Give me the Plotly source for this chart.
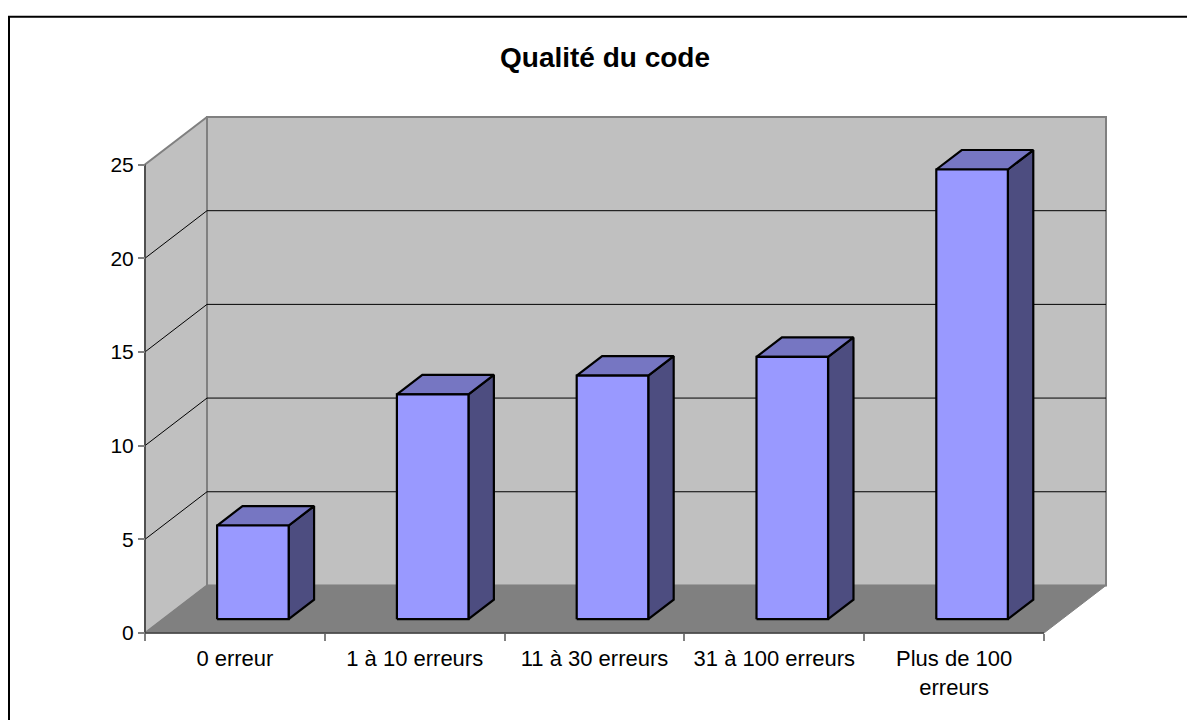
import plotly.graph_objects as go

categories = ["0 erreur", "1 à 10 erreurs", "11 à 30 erreurs", "31 à 100 erreurs", "Plus de 100<br>erreurs"]
values = [5, 12, 13, 14, 24]
y_ticks = [0, 5, 10, 15, 20, 25]

W, H = 1187, 720
L, R, T, B = 145, 1044, 164.7, 632.7   # front plane of the 3D box
DXP, DYP = 62, 47.5                    # depth offset of the back wall, px
PAD = 4                                # room so box edges are not clipped
YMAX = 25
n = len(categories)
xs = (R - L) / n
ys = (B - T) / YMAX
DX = DXP / xs
DY = DYP / ys
D0, D1 = 0.29, 0.70
HW = 0.199

PL, PR = L - PAD, R + DXP + PAD
PT, PB = T - DYP - PAD, B + PAD
paper_x = lambda px: (px - PL) / (PR - PL)
paper_y = lambda py: (PB - py) / (PB - PT)


def poly(px, py, fill, line, width):
    return go.Scatter(x=px, y=py, mode="lines", fill="toself" if fill else None,
                      fillcolor=fill, line=dict(color=line, width=width),
                      hoverinfo="skip", showlegend=False)


x0, x1 = -0.5, n - 0.5
fig = go.Figure()
fig.add_trace(poly([x0, x0 + DX, x0 + DX, x0, x0], [0, DY, YMAX + DY, YMAX, 0], "#C0C0C0", "#808080", 2))
fig.add_trace(poly([x0 + DX, x1 + DX, x1 + DX, x0 + DX, x0 + DX], [DY, DY, YMAX + DY, YMAX + DY, DY], "#C0C0C0", "#808080", 2))
for v in y_ticks[1:-1]:
    fig.add_trace(poly([x0, x0 + DX, x1 + DX], [v, v + DY, v + DY], None, "#000000", 1))
fig.add_trace(poly([x0, x1, x1 + DX, x0 + DX, x0], [0, 0, DY, DY, 0], "#808080", "#808080", 1))
# front edges of the box
fig.add_trace(poly([x0, x0], [0, YMAX], None, "#404040", 1.5))
fig.add_trace(poly([x0, x1], [0, 0], None, "#404040", 1.5))
for i, v in enumerate(values):
    a, b = i - HW, i + HW
    p = lambda d, xx, yy: (xx + d * DX, yy + d * DY)
    s = [p(D0, b, 0), p(D1, b, 0), p(D1, b, v), p(D0, b, v), p(D0, b, 0)]
    fig.add_trace(poly([q[0] for q in s], [q[1] for q in s], "#4D4D80", "#000000", 2.2))
    t = [p(D0, a, v), p(D0, b, v), p(D1, b, v), p(D1, a, v), p(D0, a, v)]
    fig.add_trace(poly([q[0] for q in t], [q[1] for q in t], "#7676C2", "#000000", 2.2))
    f = [p(D0, a, 0), p(D0, b, 0), p(D0, b, v), p(D0, a, v), p(D0, a, 0)]
    fig.add_trace(poly([q[0] for q in f], [q[1] for q in f], "#9999FF", "#000000", 2.2))

font = dict(family="Liberation Sans, Arial, sans-serif", size=21, color="#000000")
xfont = dict(family=font["family"], size=22, color="#000000")
fig.update_layout(
    width=W, height=H, autosize=False,
    margin=dict(l=PL, r=W - PR, t=PT, b=H - PB, pad=0),
    paper_bgcolor="#FFFFFF", plot_bgcolor="rgba(0,0,0,0)",
    font=font, showlegend=False,
    xaxis=dict(range=[x0 - PAD / xs, x1 + DX + PAD / xs], anchor="free", position=paper_y(B),
               tickmode="array", tickvals=list(range(n)), ticktext=categories,
               ticks="outside", ticklen=6, tickcolor="rgba(0,0,0,0)", tickfont=xfont,
               showgrid=False, zeroline=False, showline=False, ticklabelstandoff=0,
               minor=dict(tickmode="array", tickvals=[x0 + k for k in range(n + 1)], ticks="outside",
                          ticklen=7, tickcolor="#808080", tickwidth=1.5, showgrid=False)),
    yaxis=dict(range=[-PAD / ys, YMAX + DY + PAD / ys], anchor="free", position=paper_x(L),
               tickmode="array", tickvals=y_ticks, ticks="outside", ticklen=7,
               tickcolor="#808080", tickwidth=1.5, tickfont=font, showgrid=False, zeroline=False,
               showline=False),
    annotations=[dict(text="<b>Qualité du code</b>", xref="paper", yref="paper",
                      x=paper_x(604.5), y=paper_y(58), xanchor="center", yanchor="middle",
                      showarrow=False, font=dict(family=font["family"], size=28, color="#000000"))],
    shapes=[dict(type="path", xref="paper", yref="paper", layer="above",
                 path="M {} {} L {} {} L {} {}".format(paper_x(9), paper_y(720), paper_x(9), paper_y(17),
                                                      paper_x(W), paper_y(17)),
                 line=dict(color="#000000", width=2))],
)
fig.write_html("out.html", config=dict(displayModeBar=False),
               post_script="document.body.style.margin='0';document.documentElement.style.overflow='hidden';")
